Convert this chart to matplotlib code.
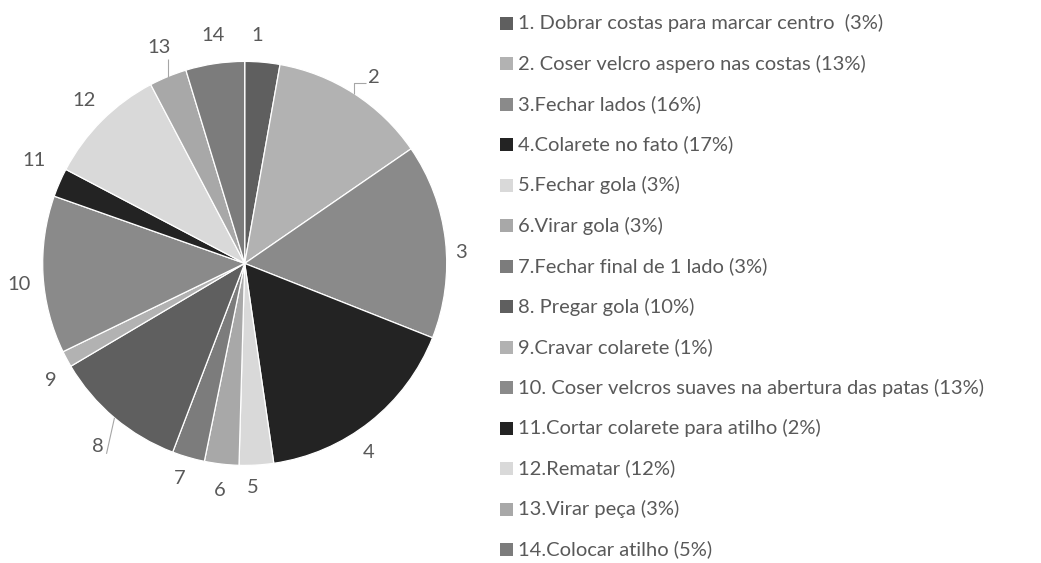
import numpy as np
import matplotlib
matplotlib.use("Agg")
import matplotlib.pyplot as plt
from matplotlib.patches import Rectangle

# ---------------- data ----------------
slice_ids = ["1", "2", "3", "4", "5", "6", "7", "8", "9", "10", "11", "12", "13", "14"]
slice_values = [2.8, 12.6, 15.6, 16.7, 2.75, 2.75, 2.6, 10.7, 1.3, 12.6, 2.3, 9.6, 3.0, 4.7]
legend_labels = [
    "1. Dobrar costas para marcar centro  (3%)",
    "2. Coser velcro aspero nas costas (13%)",
    "3.Fechar lados (16%)",
    "4.Colarete no fato (17%)",
    "5.Fechar gola (3%)",
    "6.Virar gola (3%)",
    "7.Fechar final de 1 lado (3%)",
    "8. Pregar gola (10%)",
    "9.Cravar colarete (1%)",
    "10. Coser velcros suaves na abertura das patas (13%)",
    "11.Cortar colarete para atilho (2%)",
    "12.Rematar (12%)",
    "13.Virar peça (3%)",
    "14.Colocar atilho (5%)",
]
slice_colors = ["#5f5f5f", "#b2b2b2", "#8a8a8a", "#232323", "#d9d9d9", "#a8a8a8", "#7c7c7c",
                "#5f5f5f", "#b2b2b2", "#8a8a8a", "#232323", "#d9d9d9", "#a8a8a8", "#7c7c7c"]

# ---------------- layout ----------------
W, H = 1041, 563
DPI = 100
CX, CY = 244.7, 263.4     # pie centre, pixels from top-left
R = 202.0                 # pie radius, pixels
S = 240.0                 # half size of the pie axes, pixels
TEXT_COLOR = "#595959"
FONT = "Lato"
FS = 14.5

plt.rcParams["font.family"] = [FONT, "DejaVu Sans"]

fig = plt.figure(figsize=(W / DPI, H / DPI), dpi=DPI)
fig.patch.set_facecolor("white")
ax = fig.add_axes([(CX - S) / W, (H - CY - S) / H, 2 * S / W, 2 * S / H])

wedges, _ = ax.pie(slice_values, colors=slice_colors, startangle=90, counterclock=False,
                   wedgeprops=dict(edgecolor="white", linewidth=0.9))
lim = S / R
ax.set_xlim(-lim, lim)
ax.set_ylim(-lim, lim)
ax.set_aspect("equal")
ax.axis("off")

def px(dx, dy):
    """pixel offset (right, down) -> data units"""
    return dx / R, -dy / R

# label radius (in R) and small angular nudge (deg, clockwise) for each slice label
label_r = [1.13, 1.12, 1.07, 1.12, 1.11, 1.13, 1.11, 1.16, 1.12, 1.12, 1.16, 1.13, 1.15, 1.14]
label_dang = [-2, 2, 3.5, 5, 1.3, -0.3, 0.6, -1.4, -3, -2, 2.4, 0.4, 0.7, 0.5]

for i, w in enumerate(wedges):
    mid = 0.5 * (w.theta1 + w.theta2)          # matplotlib angle, ccw from +x
    ang = np.deg2rad(mid - label_dang[i])
    r = label_r[i]
    ax.text(r * np.cos(ang), r * np.sin(ang), slice_ids[i], ha="center", va="center",
            fontsize=FS, color=TEXT_COLOR)

# leader lines for labels 2, 8 and 13
lc = "#a6a6a6"
for idx, segs in [(1, [(0, -10.5), (12, -10.5)]), (7, [(-8, 36)]), (12, [(0, -18)])]:
    w = wedges[idx]
    mid = np.deg2rad(0.5 * (w.theta1 + w.theta2))
    x0, y0 = np.cos(mid), np.sin(mid)
    xs, ys = [x0], [y0]
    for dx, dy in segs:
        ox, oy = px(dx, dy)
        xs.append(x0 + ox)
        ys.append(y0 + oy)
    ax.plot(xs, ys, color=lc, linewidth=0.8, solid_capstyle="butt")

# legend (drawn in figure pixel coordinates)
LX, LY0, LDY, MS = 500, 23.0, 40.5, 13
for i, (lab, col) in enumerate(zip(legend_labels, slice_colors)):
    yc = LY0 + i * LDY
    fig.patches.append(Rectangle((LX / W, (H - yc - MS / 2) / H), MS / W, MS / H,
                                 transform=fig.transFigure, facecolor=col, edgecolor="none"))
    fig.text((LX + MS + 5) / W, (H - yc) / H, lab, ha="left", va="center",
             fontsize=FS, color=TEXT_COLOR)

fig.savefig("out.png", dpi=DPI, facecolor="white")
